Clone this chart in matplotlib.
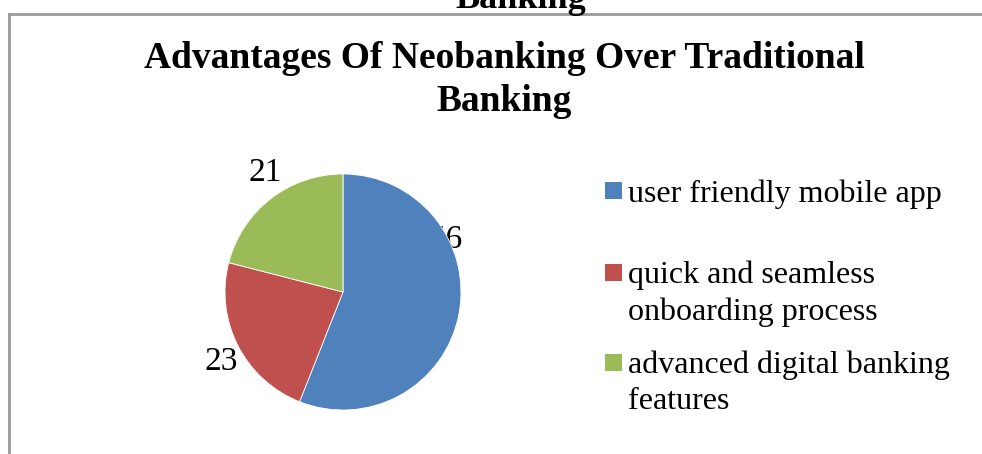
import matplotlib
matplotlib.use("Agg")
import matplotlib.pyplot as plt
import numpy as np
from matplotlib.lines import Line2D
from matplotlib.patches import Rectangle

# Data
categories = ["user friendly mobile app",
              "quick and seamless\nonboarding process",
              "advanced digital banking\nfeatures"]
values = [56, 23, 21]
colors = ["#4F81BD", "#C0504D", "#9BBB59"]

plt.rcParams['font.family'] = ['Liberation Serif', 'DejaVu Serif']

W, H = 982, 454
my_dpi = 100
fig = plt.figure(figsize=(W / my_dpi, H / my_dpi), dpi=my_dpi)

# page border of the chart box
fig.add_artist(Line2D([9 / W, 1], [1 - 14 / H, 1 - 14 / H], color="#9a9a9a", lw=2))
fig.add_artist(Line2D([9 / W, 9 / W], [0, 1 - 14 / H], color="#9a9a9a", lw=2))

# cut off caption from the page above (it is cut in the source too)
fig.text(521 / W, 1 - 8 / H, "Banking", ha="center", va="baseline",
         fontsize=26, fontweight="bold")

# title
fig.text(504 / W, 1 - 59 / H, "Advantages Of Neobanking Over Traditional",
         ha="center", va="center", fontsize=27, fontweight="bold")
fig.text(504 / W, 1 - 101 / H, "Banking",
         ha="center", va="center", fontsize=27, fontweight="bold")

# pie
cx, cy, r = 343, 292, 118
ax = fig.add_axes([(cx - r) / W, (H - cy - r) / H, 2 * r / W, 2 * r / H])
wedges, _ = ax.pie(values, colors=colors, startangle=90, counterclock=False,
                   wedgeprops=dict(linewidth=0.6, edgecolor="white"))
ax.set_aspect("equal")
ax.set_xlim(-1, 1)
ax.set_ylim(-1, 1)

# data labels (angle clockwise from top, distance in radii)
label_pos = [(63, 0.975), (240, 1.19), (327, 1.21)]
for v, (ang, dist) in zip(values, label_pos):
    a = np.deg2rad(90 - ang)
    t = ax.text(dist * np.cos(a), dist * np.sin(a), str(v), ha="center",
                va="center", fontsize=24, clip_on=False)
    if v == values[0]:
        # the first label sits partly under the pie, as in the source
        t.set_zorder(0.5)

# legend, drawn by hand to match the spacing
leg_y = [190, 272, 362]
for cat, col, y in zip(categories, colors, leg_y):
    fig.add_artist(Rectangle((605 / W, 1 - (y + 8.5) / H), 17 / W, 17 / H,
                             facecolor=col, edgecolor="none",
                             transform=fig.transFigure))
    fig.text(628 / W, 1 - (y - 11) / H, cat, ha="left", va="top",
             fontsize=23, linespacing=1.3)

plt.savefig("out.png", dpi=my_dpi)
